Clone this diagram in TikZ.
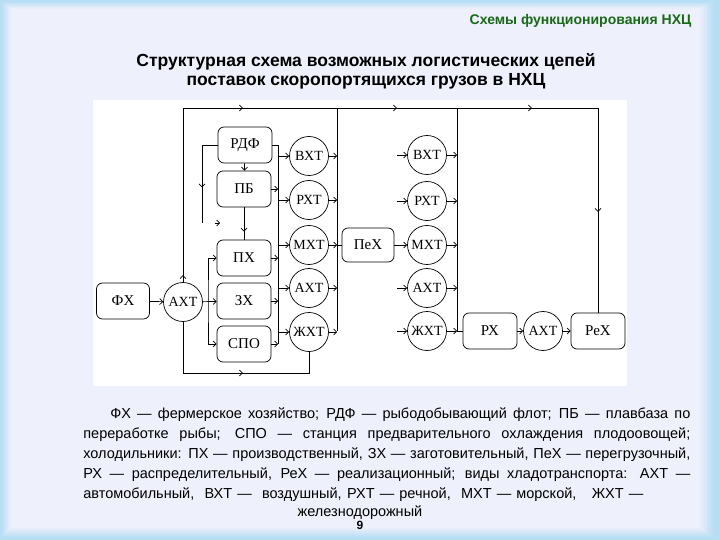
\documentclass[tikz,border=0pt]{standalone}
\usepackage{fontspec}
\setmainfont{Liberation Serif}
\newfontfamily\lsans{Liberation Sans}
\usetikzlibrary{arrows.meta,calc,decorations.markings}
\definecolor{ramka}{RGB}{184,222,244}
\definecolor{fon}{RGB}{238,240,251}
\definecolor{zagolovok}{RGB}{25,105,25}
\tikzset{
  blok/.style={draw, rounded corners=6pt, minimum width=54pt, minimum height=36pt, inner sep=1pt, font=\fontsize{15}{15}\selectfont},
  vid/.style={draw, circle, minimum size=39pt, inner sep=0pt, font=\fontsize{14}{14}\selectfont},
  stroka/.style={anchor=west, text height=11pt, text depth=3pt, inner sep=0pt, font=\lsans\fontsize{14.5}{17}\selectfont},
  strelka/.style={postaction={decorate}, decoration={markings, mark=at position #1 with {\arrow{>}}}}
}
\begin{document}
\begin{tikzpicture}[x=1pt, y=-1pt, line width=0.7pt, >={Straight Barb[length=3pt,width=6pt]}]
\useasboundingbox (0,0) rectangle (720,540);
% фон слайда
\fill[ramka] (0,0) rectangle (720,540);
\foreach \i in {0,...,10}{
  \pgfmathsetmacro\m{\i*10}
  \fill[fon!\m!ramka] (1+\i, 1+0.8*\i) rectangle (714-1.4*\i, 538-\i);
}
\fill[white] (93,100) rectangle (627,386);

% заголовки
\node[anchor=east, text=zagolovok, font=\lsans\bfseries\fontsize{14}{16}\selectfont] (shapka) at (695,21) {Схемы функционирования НХЦ};
\node[align=center, font=\lsans\bfseries\fontsize{17.5}{19}\selectfont] (nazv) at (366,71) {Структурная схема возможных логистических цепей\\поставок скоропортящихся грузов в НХЦ};

% узлы: хозяйства и холодильники
\node[blok, minimum width=53pt] (fh) at (123,301) {ФХ};
\node[blok] (rdf) at (245,145) {РДФ};
\node[blok] (pb) at (244,189) {ПБ};
\node[blok] (ph) at (244,258) {ПХ};
\node[blok] (zh) at (244,301) {ЗХ};
\node[blok] (spo) at (244,344) {СПО};
\node[blok, minimum width=52pt, minimum height=34pt] (peh) at (368,245) {ПеХ};
\node[blok] (rh) at (490,331) {РХ};
\node[blok] (reh) at (598,331) {РеХ};

% узлы: виды хладотранспорта
\node[vid] (aht0) at (183,302) {АХТ};
\node[vid] (vht1) at (309,156) {ВХТ};
\node[vid] (rht1) at (309,200) {РХТ};
\node[vid] (mht1) at (309,245) {МХТ};
\node[vid] (aht1) at (309,288) {АХТ};
\node[vid] (zht1) at (309,332) {ЖХТ};
\node[vid] (vht2) at (427,155) {ВХТ};
\node[vid] (rht2) at (427,201) {РХТ};
\node[vid] (mht2) at (427,245) {МХТ};
\node[vid] (aht2) at (427,288) {АХТ};
\node[vid] (zht2) at (427,331) {ЖХТ};
\node[vid] (aht3) at (543,331) {АХТ};

% шины
\coordinate (verh) at (0,108);
\coordinate (niz) at (0,373);
\coordinate (petlya) at (202,223);
\coordinate (b0) at (208,301);
\coordinate (b1) at (278,344);
\coordinate (b2) at (337,331);
\coordinate (b3) at (457,331);

% верхняя и нижняя линии
\draw[postaction={decorate}, decoration={markings,
    mark=at position 7pt with {\arrow{>}}, mark=at position 234pt with {\arrow{>}},
    mark=at position 388pt with {\arrow{>}}, mark=at position 523pt with {\arrow{>}},
    mark=at position 693pt with {\arrow{>}}}]
  (aht0.north) -- (aht0.north |- verh) -- (reh.north |- verh) -- (reh.north);
\draw[strelka=111pt] (aht0.south) |- (zht1.south |- niz) -- (zht1.south);

% левая часть
\draw[->] (fh) -- (aht0);
\draw[->] (aht0) -- (zh);
\draw[<->] (ph.west) -| (b0) |- (spo.west);
\draw[->] (rdf) -- (pb);
\draw[strelka=0.75] (pb) -- (ph);
\draw[strelka=58pt] (rdf.west) -| (petlya);
\draw[->] ($(petlya)+(13,0)$) -- ++(5,0);
\draw (rdf.east) -| (b1);
\foreach \n in {pb,ph,zh,spo} \draw[->] (\n.east) -- (\n.east -| b1);
\foreach \n in {vht1,rht1,mht1,aht1,zht1} \draw[->] (\n.west -| b1) -- (\n.west);

% средняя часть
\draw (b2 |- verh) -- (b2);
\foreach \n in {vht1,rht1,mht1,aht1,zht1} \draw[->] (\n.east) -- (\n.east -| b2);
\draw (mht1.east -| b2) -- (peh.west);
\draw[->] (peh) -- (mht2);
\foreach \n in {vht2,rht2,aht2,zht2} \draw[->] ($(\n.west)+(-10,0)$) -- (\n.west);

% правая часть
\draw (b3 |- verh) -- (b3) -- (rh.west);
\foreach \n in {vht2,rht2,mht2,aht2,zht2} \draw[->] (\n.east) -- (\n.east -| b3);
\draw[->] (rh) -- (aht3);
\draw[->] (aht3) -- (reh);

% пояснения
\node[stroka] (t1) at (110,414) {\makebox[580pt][s]{ФХ — фермерское хозяйство; РДФ — рыбодобывающий флот; ПБ — плавбаза по}};
\node[stroka] (t2) at (83,434) {\makebox[607pt][s]{переработке рыбы; СПО — станция предварительного охлаждения плодоовощей;}};
\node[stroka] (t3) at (83,454) {\makebox[607pt][s]{холодильники: ПХ — производственный, ЗХ — заготовительный, ПеХ — перегрузочный,}};
\node[stroka] (t4) at (83,474) {\makebox[607pt][s]{РХ — распределительный, РеХ — реализационный; виды хладотранспорта: АХТ —}};
\node[stroka] (t5) at (83,494) {\makebox[560pt][s]{автомобильный,\ \ ВХТ —\ \ воздушный, РХТ — речной,\ \ МХТ — морской,\ \ \ ЖХТ —}};
\node[stroka, anchor=center] (t6) at (360,512) {железнодорожный};
\node[font=\lsans\bfseries\fontsize{12}{12}\selectfont] (nomer) at (360,525) {9};
\end{tikzpicture}
\end{document}
